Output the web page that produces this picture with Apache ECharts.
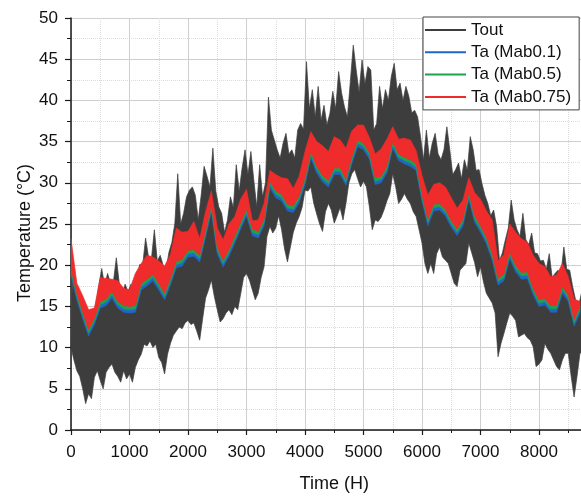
<!DOCTYPE html>
<html>
<head>
<meta charset="utf-8">
<title>Temperature</title>
<style>
  html, body { margin: 0; padding: 0; background: #fff; }
  #main { width: 581px; height: 497px; }
</style>
</head>
<body>
<div id="main"></div>
<script src="https://cdn.jsdelivr.net/npm/echarts@6/dist/echarts.min.js"></script>
<script>
// Tout: read every 50 h, low point at t, high point at t+25
var toutStep = 50;
var toutLo = [
  10.0, 8.5, 7.2, 6.5, 5.0, 3.2, 4.4, 3.8, 6.4, 7.2,
  6.0, 5.0, 7.0, 7.6, 8.0, 7.0, 6.5, 5.8, 7.2, 6.2,
  6.8, 5.8, 7.6, 8.5, 9.2, 10.4, 10.2, 10.8, 10.0, 10.4,
  8.8, 8.2, 6.8, 9.2, 10.5, 11.5, 12.0, 12.5, 12.3, 13.0,
  13.3, 12.8, 13.0, 12.0, 10.9, 13.5, 16.0, 17.0, 18.2, 16.2,
  14.6, 13.1, 13.5, 14.2, 14.6, 14.0, 15.0, 14.6, 16.5, 18.5,
  19.0, 18.2, 17.0, 15.8, 16.6, 18.5, 19.8, 23.5, 24.7, 23.9,
  24.5, 26.0, 24.3, 22.0, 20.4, 22.2, 24.0, 25.1, 25.9, 27.0,
  29.1, 29.0, 29.5, 27.5, 26.2, 25.0, 24.1, 26.5, 27.5, 26.7,
  25.1, 26.0, 27.0, 25.5, 27.5, 30.0, 31.1, 31.6, 30.5, 29.5,
  30.2, 29.5, 27.1, 24.3, 25.5, 25.3, 25.8, 26.7, 27.8, 28.7,
  31.1, 29.5, 27.5, 28.0, 28.7, 28.0, 27.5, 26.5, 25.9, 24.3,
  22.7, 20.2, 19.0, 20.2, 19.0, 21.4, 22.2, 21.0, 20.6, 20.2,
  19.0, 17.8, 17.4, 19.4, 19.8, 20.2, 22.7, 21.5, 20.3, 18.6,
  19.8, 18.0, 16.6, 16.0, 15.4, 14.2, 8.9, 10.5, 11.7, 13.0,
  14.2, 13.8, 13.3, 11.3, 11.5, 11.7, 11.2, 10.9, 10.1, 7.7,
  8.0, 8.5, 10.5, 9.8, 9.3, 8.5, 7.7, 7.3, 8.5, 9.3,
  9.3, 6.5, 4.0, 6.5, 9.3, 9.5
];
var toutHi = [
  19.5, 17.5, 16.5, 15.5, 15.0, 14.0, 13.5, 13.8, 15.0, 17.5,
  19.6, 17.5, 19.0, 17.8, 18.0, 20.9, 17.8, 16.5, 17.7, 16.8,
  17.7, 17.0, 18.5, 20.1, 20.0, 23.3, 21.0, 20.8, 24.3, 20.5,
  21.2, 20.0, 19.5, 21.6, 22.8, 25.1, 31.1, 25.0, 26.3, 28.3,
  29.1, 29.5, 28.5, 25.5, 28.5, 32.0, 30.8, 29.5, 34.2, 29.0,
  27.1, 26.3, 24.0, 25.5, 28.3, 27.0, 32.2, 29.0, 31.8, 34.0,
  31.0, 33.8, 30.3, 27.1, 32.2, 28.3, 30.0, 40.4, 36.4, 35.2,
  34.0, 33.0, 34.8, 36.0, 33.5, 34.0, 33.0, 36.4, 37.2, 36.5,
  44.7, 39.0, 41.3, 38.0, 41.7, 37.6, 39.4, 37.0, 38.4, 41.1,
  39.0, 43.5, 40.9, 39.2, 38.0, 42.3, 46.7, 43.7, 41.0, 44.9,
  42.0, 44.1, 43.7, 36.4, 37.2, 41.7, 39.0, 41.3, 40.0, 42.9,
  44.5, 41.3, 42.1, 40.0, 41.7, 40.5, 38.5, 38.8, 38.0, 35.6,
  32.8, 36.4, 33.0, 34.8, 36.0, 33.5, 32.8, 34.0, 36.8, 34.0,
  31.0, 31.6, 32.4, 30.5, 32.8, 31.5, 35.6, 34.0, 31.5, 31.6,
  29.9, 28.5, 27.5, 26.0, 26.7, 24.7, 20.6, 21.5, 23.1, 24.5,
  27.9, 25.5, 24.3, 23.5, 26.3, 23.1, 22.5, 23.9, 21.5, 21.4,
  20.5, 20.6, 19.5, 21.4, 18.5, 19.0, 19.4, 19.0, 22.2, 19.5,
  19.4, 17.4, 15.8, 15.0, 16.6, 15.5
];

// Ta series: envelopes read every 100 h
var taStep = 100;
var blueLo = [
  18.8, 15.8, 13.5, 11.4, 12.8, 14.8, 15.1, 16.0, 14.8, 14.3,
  14.2, 14.3, 17.0, 17.5, 18.1, 17.0, 15.8, 17.6, 19.7, 19.9,
  21.0, 21.1, 20.4, 23.4, 26.5, 21.4, 19.8, 21.1, 22.7, 24.4,
  26.0, 23.6, 23.3, 24.8, 29.4, 28.2, 27.8, 26.6, 26.4, 27.6,
  29.8, 33.0, 31.2, 30.1, 29.5, 31.0, 31.0, 29.7, 32.3, 34.4,
  34.0, 32.9, 29.8, 30.0, 31.2, 34.2, 32.7, 32.3, 32.0, 31.5,
  27.8, 24.8, 26.6, 26.7, 26.0, 24.6, 23.6, 24.8, 28.0, 25.2,
  24.0, 22.6, 20.6, 17.6, 18.1, 20.8, 19.2, 18.3, 18.4, 16.4,
  15.0, 15.2, 14.3, 14.3, 16.6, 15.6, 12.6, 14.2
];
var greenLo = [
  19.2, 16.2, 13.9, 11.8, 13.2, 15.2, 15.5, 16.4, 15.2, 14.7,
  14.6, 14.7, 17.4, 17.9, 18.5, 17.4, 16.2, 18.0, 20.1, 20.3,
  21.4, 21.5, 20.8, 23.8, 26.9, 21.8, 20.2, 21.5, 23.1, 24.8,
  26.4, 24.0, 23.7, 25.2, 29.8, 28.6, 28.2, 27.0, 26.8, 28.0,
  30.2, 33.4, 31.6, 30.5, 29.9, 31.4, 31.4, 30.1, 32.7, 34.8,
  34.4, 33.3, 30.2, 30.4, 31.6, 34.6, 33.1, 32.7, 32.4, 31.9,
  28.2, 25.2, 27.0, 27.1, 26.4, 25.0, 24.0, 25.2, 28.4, 25.6,
  24.4, 23.0, 21.0, 18.0, 18.5, 21.2, 19.6, 18.7, 18.8, 16.8,
  15.4, 15.6, 14.7, 14.7, 17.0, 16.0, 13.0, 14.6
];
var redLo = [
  19.6, 16.6, 14.3, 12.2, 13.6, 15.6, 15.9, 16.8, 15.6, 15.1,
  15.0, 15.1, 17.8, 18.3, 18.9, 17.8, 16.6, 18.4, 20.5, 20.7,
  21.8, 21.9, 21.2, 24.2, 27.3, 22.2, 20.6, 21.9, 23.5, 25.2,
  26.8, 24.4, 24.1, 25.6, 30.2, 29.0, 28.6, 27.4, 27.2, 28.4,
  30.6, 33.8, 32.0, 30.9, 30.3, 31.8, 31.8, 30.5, 33.1, 35.2,
  34.8, 33.7, 30.6, 30.8, 32.0, 35.0, 33.5, 33.1, 32.8, 32.3,
  28.6, 25.6, 27.4, 27.5, 26.8, 25.4, 24.4, 25.6, 28.8, 26.0,
  24.8, 23.4, 21.4, 18.4, 18.9, 21.6, 20.0, 19.1, 19.2, 17.2,
  15.8, 16.0, 15.1, 15.1, 17.4, 16.4, 13.4, 15.0
];
var redHi = [
  23.2, 17.8, 16.3, 14.6, 14.8, 18.5, 18.4, 18.3, 18.1, 17.2,
  17.0, 19.0, 20.2, 21.2, 21.0, 20.5, 19.9, 21.3, 24.5, 24.0,
  24.1, 25.3, 23.2, 26.5, 29.0, 24.5, 23.1, 25.0, 25.9, 28.0,
  29.2, 25.4, 25.5, 27.5, 31.5, 31.0, 30.6, 30.5, 29.3, 30.8,
  33.8, 36.2, 35.0, 34.5, 33.8, 35.6, 35.2, 34.2, 36.3, 37.0,
  37.0, 35.5, 33.5, 34.1, 35.3, 36.8, 35.3, 35.4, 35.2, 33.9,
  30.9, 28.5, 29.8, 30.0, 29.5, 28.2, 26.9, 27.9, 30.6, 28.8,
  28.0, 26.6, 25.5, 20.5, 21.3, 25.0, 24.0, 23.2, 22.8, 21.2,
  20.2, 19.8, 18.6, 18.8, 20.2, 18.6, 15.9, 15.6
];

var names = ['Tout', 'Ta (Mab0.1)', 'Ta (Mab0.5)', 'Ta (Mab0.75)'];
var colors = ['#3d3d3d', '#1f66c9', '#1fa24e', '#ef2b2b'];
var font = 'Liberation Sans, Arial, sans-serif';

function pts(step, offset, vals) {
  return vals.map(function (v, i) { return [i * step + offset, v]; });
}

// one filled polygon between the lower and upper envelope of a series
function bandSeries(name, loPts, hiPts, color) {
  return {
    name: name, type: 'custom', data: loPts, clip: true,
    encode: { x: 0, y: 1 },
    itemStyle: { color: color },
    renderItem: function (params, api) {
      if (params.dataIndex !== 0) return null;
      var poly = [];
      hiPts.forEach(function (p) { poly.push(api.coord(p)); });
      for (var i = loPts.length - 1; i >= 0; i--) poly.push(api.coord(loPts[i]));
      return {
        type: 'polygon', shape: { points: poly },
        style: { fill: color, stroke: color, lineWidth: 0.7 }
      };
    }
  };
}

var series = [
  bandSeries(names[0], pts(toutStep, 0, toutLo), pts(toutStep, toutStep / 2, toutHi), colors[0]),
  bandSeries(names[1], pts(taStep, 0, blueLo), pts(taStep, 0, redLo), colors[1]),
  bandSeries(names[2], pts(taStep, 0, greenLo), pts(taStep, 0, redLo), colors[2]),
  bandSeries(names[3], pts(taStep, 0, redLo), pts(taStep, 0, redHi), colors[3])
];

var myChart = echarts.init(document.getElementById('main'));
myChart.setOption({
  animation: false,
  grid: { left: 71, top: 18, width: 526.5, height: 412, outerBoundsMode: 'none', containLabel: false },
  legend: {
    orient: 'vertical', left: 423, top: 17,
    backgroundColor: '#fff', borderColor: '#444', borderWidth: 1,
    padding: [4, 8, 4, 2], itemGap: 4.3,
    itemWidth: 41, itemHeight: 2, icon: 'rect',
    textStyle: { fontSize: 17, color: '#111', fontFamily: font, lineHeight: 18 },
    data: names.map(function (n, k) { return { name: n, itemStyle: { color: colors[k] } }; })
  },
  graphic: [{
    type: 'text', x: 25, y: 233, rotation: Math.PI / 2,
    style: {
      text: 'Temperature (°C)', fontSize: 18, fontFamily: font, fill: '#111',
      textAlign: 'center', textVerticalAlign: 'middle'
    }
  }],
  xAxis: {
    type: 'value', min: 0, max: 9000, interval: 1000,
    name: 'Time (H)', nameLocation: 'middle', nameGap: 45,
    nameTextStyle: { fontSize: 18, color: '#111', fontFamily: font },
    axisLine: { lineStyle: { color: '#1a1a1a', width: 1.5 } },
    axisTick: { length: 5, lineStyle: { color: '#1a1a1a', width: 1.2 } },
    minorTick: { show: true, splitNumber: 2, length: 3, lineStyle: { color: '#1a1a1a' } },
    axisLabel: {
      fontSize: 17, color: '#111', fontFamily: font, margin: 14, showMaxLabel: false,
      formatter: function (v) { return String(v); }
    },
    splitLine: { lineStyle: { color: '#cfcfcf' } },
    minorSplitLine: { show: true, lineStyle: { color: '#dcdcdc', type: 'dotted' } }
  },
  yAxis: {
    type: 'value', min: 0, max: 50, interval: 5,
    axisLine: { show: true, lineStyle: { color: '#1a1a1a', width: 1.5 } },
    axisTick: { show: true, length: 6, lineStyle: { color: '#1a1a1a', width: 1.2 } },
    minorTick: { show: true, splitNumber: 2, length: 4, lineStyle: { color: '#1a1a1a' } },
    axisLabel: {
      fontSize: 17, color: '#111', fontFamily: font, margin: 13,
      formatter: function (v) { return String(v); }
    },
    splitLine: { lineStyle: { color: '#cfcfcf' } },
    minorSplitLine: { show: true, lineStyle: { color: '#dcdcdc', type: 'dotted' } }
  },
  series: series
});
</script>
</body>
</html>
